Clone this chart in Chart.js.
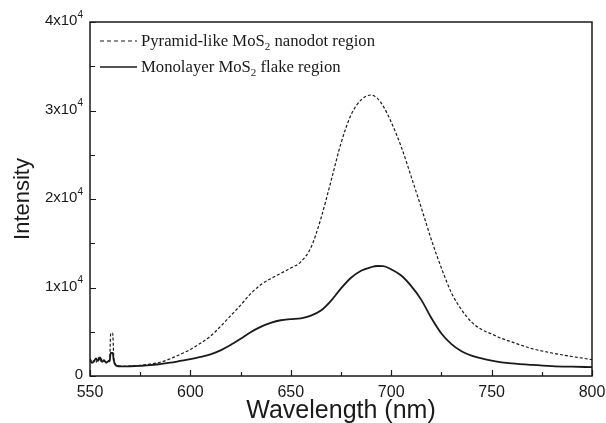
<!DOCTYPE html>
<html>
<head>
<meta charset="utf-8">
<script src="https://cdn.jsdelivr.net/npm/chart.js@4.4.1/dist/chart.umd.min.js"></script>
<style>
  html, body { margin: 0; padding: 0; background: #fff; }
  #wrap { width: 606px; height: 423px; }
</style>
</head>
<body>
<div id="wrap"><canvas id="pl"></canvas></div>
<script>
// PL spectra (nm vs counts)
const wavelength = [550, 551, 552, 553, 554, 555, 556, 557, 558, 559,
    559.8, 560.3, 561.3, 561.8, 562.5, 564, 567, 570,
    575, 580, 585, 590, 595, 600, 605, 610, 615, 620, 625, 630, 635, 640, 645, 650,
    655, 660, 665, 670, 675, 680, 685, 690, 693, 696,
    700, 705, 710, 715, 720, 725, 730, 735, 740, 745, 750, 755, 760,
    770, 780, 790, 800];

const pyramidIntensity = [2000, 1600, 1750, 1500, 2100, 1650, 1900, 1700, 1600, 1750,
    1800, 4800, 4850, 2300, 1400, 1150, 1100, 1120,
    1200, 1350, 1550, 1950, 2450, 3000, 3700, 4500, 5600, 6800, 8000, 9300, 10300, 11000, 11600, 12200,
    12900, 14500, 17800, 22000, 26300, 29500, 31200, 31750, 31400, 30500,
    28700, 25900, 22500, 19000, 15400, 12200, 9400, 7500, 6100, 5250, 4750, 4250, 3850,
    3100, 2600, 2200, 1850];

const monolayerIntensity = [1800, 1500, 1650, 2000, 1700, 2100, 1600, 1800, 1500, 1650,
    1700, 2600, 2600, 1800, 1300, 1100, 1080, 1100,
    1150, 1220, 1350, 1500, 1700, 1900, 2150, 2450, 2900, 3500, 4200, 4950, 5550, 6000, 6300, 6420,
    6520, 6820, 7400, 8500, 9900, 11100, 11900, 12300, 12430, 12420,
    12050, 11350, 10150, 8600, 6550, 4800, 3600, 2800, 2300, 2000, 1750, 1550, 1420,
    1250, 1120, 1050, 1000];

const seriesLabels = ['Pyramid-like MoS\u2082 nanodot region', 'Monolayer MoS\u2082 flake region'];
const xTicks = [550, 600, 650, 700, 750, 800];
const yTicks = [0, 10000, 20000, 30000, 40000];

const ink = '#1a1a1a';

function toPoints(ys) {
    return wavelength.map((w, i) => ({ x: w, y: ys[i] }));
}

// box, inward ticks, y labels with superscripts, legend
const decor = {
    id: 'decor',
    afterDraw(chart) {
        const ctx = chart.ctx;
        const a = chart.chartArea;
        const xs = chart.scales.x, ys = chart.scales.y;
        ctx.save();
        ctx.strokeStyle = ink;
        ctx.lineWidth = 1.5;
        ctx.strokeRect(a.left, a.top, a.right - a.left, a.bottom - a.top);

        ctx.lineWidth = 1.2;
        ctx.beginPath();
        for (let v = 550; v <= 800; v += 25) {
            const px = Math.round(xs.getPixelForValue(v)) + 0.5;
            const len = v % 50 === 0 ? 6 : 4;
            ctx.moveTo(px, a.bottom);
            ctx.lineTo(px, a.bottom - len);
        }
        for (let v = 0; v <= 40000; v += 5000) {
            const py = Math.round(ys.getPixelForValue(v)) + 0.5;
            const len = v % 10000 === 0 ? 6 : 5;
            ctx.moveTo(a.left, py);
            ctx.lineTo(a.left + len, py);
        }
        ctx.stroke();

        // y tick labels: "4x10^4"
        ctx.fillStyle = ink;
        ctx.textBaseline = 'middle';
        yTicks.forEach(v => {
            const py = ys.getPixelForValue(v) - 1;
            const right = a.left - 7;
            if (v === 0) {
                ctx.font = '15px "Liberation Sans", Arial, sans-serif';
                ctx.textAlign = 'right';
                ctx.fillText('0', right, py);
                return;
            }
            ctx.font = '10px "Liberation Sans", Arial, sans-serif';
            const supW = ctx.measureText('4').width;
            ctx.textAlign = 'right';
            ctx.fillText('4', right, py - 6);
            ctx.font = '15px "Liberation Sans", Arial, sans-serif';
            ctx.fillText((v / 10000) + 'x10', right - supW, py);
        });

        // legend
        const lx = a.left + 10, ly = [a.top + 19, a.top + 45];
        const dash = [[4, 3], []];
        ctx.textAlign = 'left';
        seriesLabels.forEach((lab, i) => {
            ctx.setLineDash(dash[i]);
            ctx.lineWidth = i === 0 ? 1.2 : 1.6;
            ctx.beginPath();
            ctx.moveTo(lx, ly[i]);
            ctx.lineTo(lx + 37, ly[i]);
            ctx.stroke();
            ctx.setLineDash([]);
            const parts = lab.split('\u2082');
            let tx = lx + 41;
            ctx.font = '16.7px "Liberation Serif", "Times New Roman", serif';
            ctx.fillText(parts[0], tx, ly[i] + 1);
            tx += ctx.measureText(parts[0]).width;
            ctx.font = '11px "Liberation Serif", "Times New Roman", serif';
            ctx.fillText('2', tx, ly[i] + 6);
            tx += ctx.measureText('2').width;
            ctx.font = '16.7px "Liberation Serif", "Times New Roman", serif';
            ctx.fillText(parts[1], tx, ly[i] + 1);
        });
        ctx.restore();
    }
};

new Chart(document.getElementById('pl'), {
    type: 'line',
    data: {
        datasets: [{
            label: seriesLabels[0],
            data: toPoints(pyramidIntensity),
            borderColor: ink,
            borderWidth: 1.2,
            borderDash: [3, 2],
            pointRadius: 0,
            cubicInterpolationMode: 'monotone',
            fill: false,
        }, {
            label: seriesLabels[1],
            data: toPoints(monolayerIntensity),
            borderColor: ink,
            borderWidth: 1.8,
            pointRadius: 0,
            cubicInterpolationMode: 'monotone',
            fill: false,
        }],
    },
    options: {
        responsive: true,
        maintainAspectRatio: false,
        animation: false,
        layout: {
            padding: { top: 22, right: 14, left: 0, bottom: 0 }
        },
        plugins: {
            legend: { display: false },
            tooltip: { enabled: false },
        },
        scales: {
            x: {
                type: 'linear',
                min: 550,
                max: 800,
                afterBuildTicks: (scale) => { scale.ticks = xTicks.map(v => ({ value: v })); },
                afterFit: (scale) => {
                    scale.height = 47;
                    scale.paddingLeft = 0;
                    scale.paddingRight = 0;
                },
                grid: { display: false, drawTicks: false },
                border: { display: false },
                ticks: {
                    color: ink,
                    padding: 7,
                    maxRotation: 0,
                    font: { family: '"Liberation Sans", Arial, sans-serif', size: 16 },
                },
                title: {
                    display: true,
                    text: 'Wavelength (nm)',
                    color: ink,
                    padding: { top: 0, bottom: -3 },
                    font: { family: '"Liberation Sans", Arial, sans-serif', size: 25 },
                },
            },
            y: {
                min: 0,
                max: 40000,
                afterFit: (scale) => { scale.width = 90; },
                grid: { display: false, drawTicks: false },
                border: { display: false },
                ticks: { display: false },
                title: {
                    display: true,
                    text: 'Intensity',
                    color: ink,
                    padding: { top: 10, bottom: 0 },
                    font: { family: '"Liberation Sans", Arial, sans-serif', size: 22 },
                },
            },
        },
    },
    plugins: [decor],
});
</script>
</body>
</html>
